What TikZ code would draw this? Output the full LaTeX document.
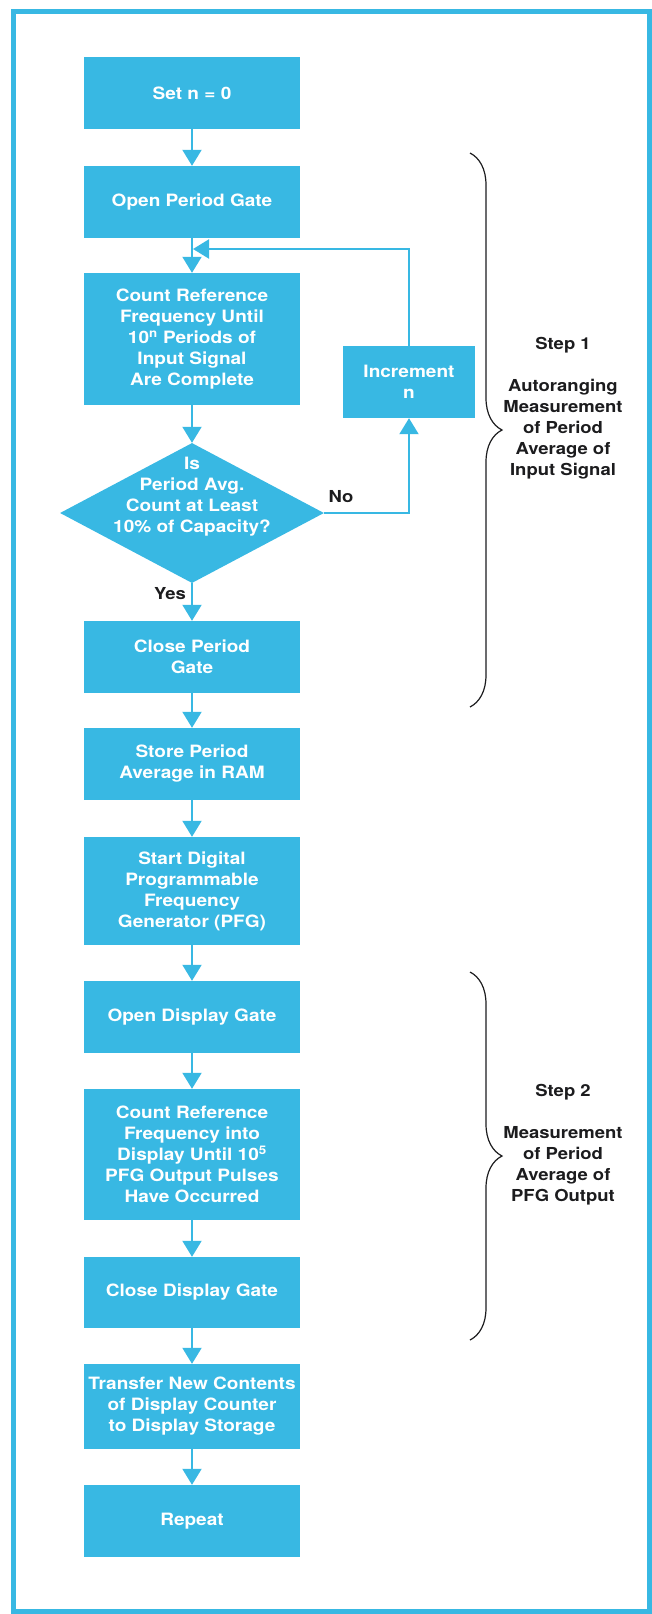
\documentclass[tikz,border=0pt]{standalone}
\usepackage{fontspec}
\setmainfont{TeX Gyre Heros}[FakeStretch=1.12]
\usepackage{xcolor}
\usetikzlibrary{arrows.meta,shapes.geometric,decorations.pathreplacing}
\definecolor{hpblue}{RGB}{56,184,227}
\definecolor{inkblack}{RGB}{28,28,30}

\begin{document}
\begin{tikzpicture}[x=1pt, y=-1pt,
  proc/.style={rectangle, fill=hpblue, text=white, minimum width=216pt, inner sep=0pt, align=center, font=\fontsize{17}{21}\selectfont\bfseries},
  test node/.style={diamond, fill=hpblue, minimum width=264pt, minimum height=140pt, inner sep=0pt},
  inc box/.style={proc, minimum width=132pt, minimum height=72pt},
  white text/.style={text=white, align=center, inner sep=0pt, font=\fontsize{17}{21}\selectfont\bfseries},
  side text/.style={text=inkblack, align=center, inner sep=0pt, font=\fontsize{16.5}{21}\selectfont\bfseries},
  arr/.style={draw=hpblue, line width=2pt, -{Triangle[width=19pt,length=16pt]}},
  brace/.style={decorate, decoration={brace, amplitude=32pt}, draw=inkblack, line width=1.2pt}]
\useasboundingbox (0,0) rectangle (652,1614);
\draw[hpblue, line width=5pt] (13,11.5) rectangle (649.5,1611.5);

\node[proc, minimum height=72pt] (setn) at (192,93) {Set n = 0};
\node[proc, minimum height=72pt] (opengate) at (192,202) {Open Period Gate};
\node[proc, minimum height=132pt] (countref) at (192,339) {Count Reference\\Frequency Until\\10\textsuperscript{n} Periods of\\Input Signal\\Are Complete};
\node[test node] (test) at (192,513) {};
\node[white text] (testtxt) at (192,497) {Is\\Period Avg.\\Count at Least\\10\% of Capacity?};
\node[inc box] (inc) at (409,382) {Increment\\n};
\node[proc, minimum height=72pt] (closegate) at (192,657) {Close Period\\Gate};
\node[proc, minimum height=72pt] (store) at (192,764) {Store Period\\Average in RAM};
\node[proc, minimum height=108pt] (startpfg) at (192,891) {Start Digital\\Programmable\\Frequency\\Generator (PFG)};
\node[proc, minimum height=72pt] (opendisp) at (192,1017) {Open Display Gate};
\node[proc, minimum height=131pt] (countdisp) at (192,1154.5) {Count Reference\\Frequency into\\Display Until 10\textsuperscript{5}\\PFG Output Pulses\\Have Occurred};
\node[proc, minimum height=71pt] (closedisp) at (192,1292.5) {Close Display Gate};
\node[proc, minimum height=85pt] (transfer) at (192,1406.5) {Transfer New Contents\\of Display Counter\\to Display Storage};
\node[proc, minimum height=72pt] (repeat) at (192,1521) {Repeat};

\node[side text, anchor=east] (yes) at (186,594) {Yes};
\node[side text] (no) at (341,497) {No};
\node[side text] (step1) at (563,408) {Step 1\\[21pt]Autoranging\\Measurement\\of Period\\Average of\\Input Signal};
\node[side text] (step2) at (563,1145) {Step 2\\[21pt]Measurement\\of Period\\Average of\\PFG Output};

\coordinate (join) at (193,249);
\coordinate (b1top) at (470,153);
\coordinate (b1bot) at (470,707);
\coordinate (b2top) at (470,972);
\coordinate (b2bot) at (470,1340);

\path
(setn) edge[arr] (opengate)
(opengate) edge[arr] (countref)
(countref) edge[arr] (test)
(test) edge[arr] (closegate)
(closegate) edge[arr] (store)
(store) edge[arr] (startpfg)
(startpfg) edge[arr] (opendisp)
(opendisp) edge[arr] (countdisp)
(countdisp) edge[arr] (closedisp)
(closedisp) edge[arr] (transfer)
(transfer) edge[arr] (repeat);
\draw[arr] (test.east) -| (inc.south);
\draw[arr] (inc.north) |- (join);

\draw[brace] (b1top) -- (b1bot);
\draw[brace] (b2top) -- (b2bot);
\end{tikzpicture}
\end{document}
